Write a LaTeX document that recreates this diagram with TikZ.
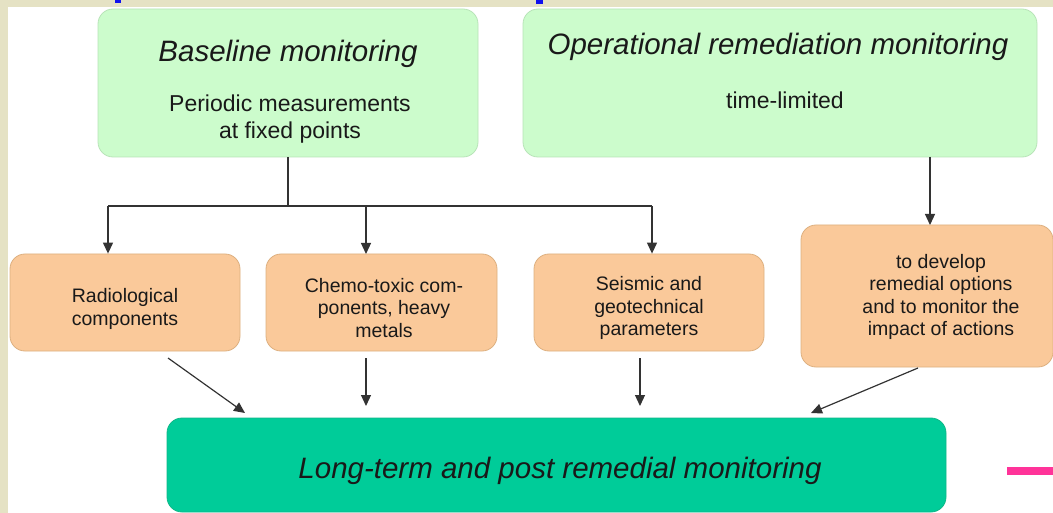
\documentclass[tikz,border=0pt]{standalone}
\usepackage{fontspec}
\setmainfont{Liberation Sans}
\usetikzlibrary{arrows.meta}
\definecolor{bgband}{HTML}{E5E2C4}
\definecolor{lgreen}{HTML}{CCFCCC}
\definecolor{lgreenb}{HTML}{B8E4B8}
\definecolor{orangef}{HTML}{FAC99A}
\definecolor{orangeb}{HTML}{DDB080}
\definecolor{dgreen}{HTML}{00CC99}
\definecolor{dgreenb}{HTML}{10B888}
\definecolor{lineg}{HTML}{333333}
\definecolor{pinkc}{HTML}{FF3399}
\definecolor{bluec}{HTML}{1010EE}
\begin{document}
\begin{tikzpicture}[x=1pt,y=-1pt,
  greenbox/.style={draw=lgreenb, fill=lgreen, rounded corners=15pt, line width=0.8pt, inner sep=0pt},
  orangebox/.style={draw=orangeb, fill=orangef, rounded corners=15pt, line width=0.8pt, inner sep=0pt},
  bigbox/.style={draw=dgreenb, fill=dgreen, rounded corners=15pt, line width=0.8pt, inner sep=0pt},
  titletext/.style={font=\fontsize{29.5}{34}\selectfont\itshape, text=black!90},
  subtext/.style={font=\fontsize{23}{27}\selectfont, align=center, text=black!90},
  boxtext/.style={font=\fontsize{19.5}{22.3}\selectfont, align=center, text=black!90},
  conn/.style={draw=lineg, line width=1.2pt},
  arr/.style={conn, -{Triangle[length=11pt,width=10pt]}}
]
\useasboundingbox (0,0) rectangle (1053,513);
\fill[bgband] (0,0) rectangle (1053,513);
\fill[white] (8,7) rectangle (1053,513);
% cut-off title fragments
\fill[bluec] (115,0) rectangle (121,3);
\fill[bluec] (536,0) rectangle (543,4);
% pink mark
\fill[pinkc] (1007,467) rectangle (1053,475);

% top boxes
\node[greenbox, minimum width=380pt, minimum height=148pt] (base) at (288,83) {};
\node[titletext] (basetitle) at (288,54) {Baseline monitoring};
\node[subtext] (basesub) at (290,119) {Periodic measurements\\at fixed points};

\node[greenbox, minimum width=514pt, minimum height=148pt] (oper) at (780,83) {};
\node[titletext] (opertitle) at (778,47) {Operational remediation monitoring};
\node[subtext] (opersub) at (785,100) {time-limited};

% orange boxes
\node[orangebox, minimum width=230pt, minimum height=97pt] (radio) at (125,302.5) {};
\node[boxtext] (radiot) at (125,309) {Radiological\\components};
\node[orangebox, minimum width=231pt, minimum height=97pt] (chemo) at (381.5,302.5) {};
\node[boxtext] (chemot) at (384,308) {Chemo-toxic com-\\ponents, heavy\\metals};
\node[orangebox, minimum width=230pt, minimum height=97pt] (seis) at (649,302.5) {};
\node[boxtext] (seist) at (649,308) {Seismic and\\geotechnical\\parameters};
\node[orangebox, minimum width=252pt, minimum height=142pt] (dev) at (927,296) {};
\node[boxtext] (devt) at (941,297) {to develop\\remedial options\\and to monitor the\\impact of actions};

% bottom box
\node[bigbox, minimum width=779pt, minimum height=94pt] (long) at (556.5,465) {};
\node[font=\fontsize{29.5}{34}\selectfont\itshape, text=black!90] (longt) at (560,471) {Long-term and post remedial monitoring};

% connectors from baseline
\coordinate (split) at (288,206);
\coordinate (hl) at (108,206);
\coordinate (hr) at (652,206);
\draw[conn] (base.south -| split) -- (split);
\draw[conn] (hl) -- (hr);
\draw[arr] (hl) -- (hl |- radio.north);
\draw[arr] (366,206) -- (366,254);
\draw[arr] (hr) -- (hr |- seis.north);
% operational to develop
\draw[arr] (930,157) -- (930,225);
% to long-term
\coordinate (r1) at (168,358);
\coordinate (r2) at (245,413);
\draw[arr] (r1) -- (r2);
\draw[arr] (366,358) -- (366,406);
\draw[arr] (640,358) -- (640,406);
\coordinate (d1) at (918,368);
\coordinate (d2) at (811,413);
\draw[arr] (d1) -- (d2);
\end{tikzpicture}
\end{document}
